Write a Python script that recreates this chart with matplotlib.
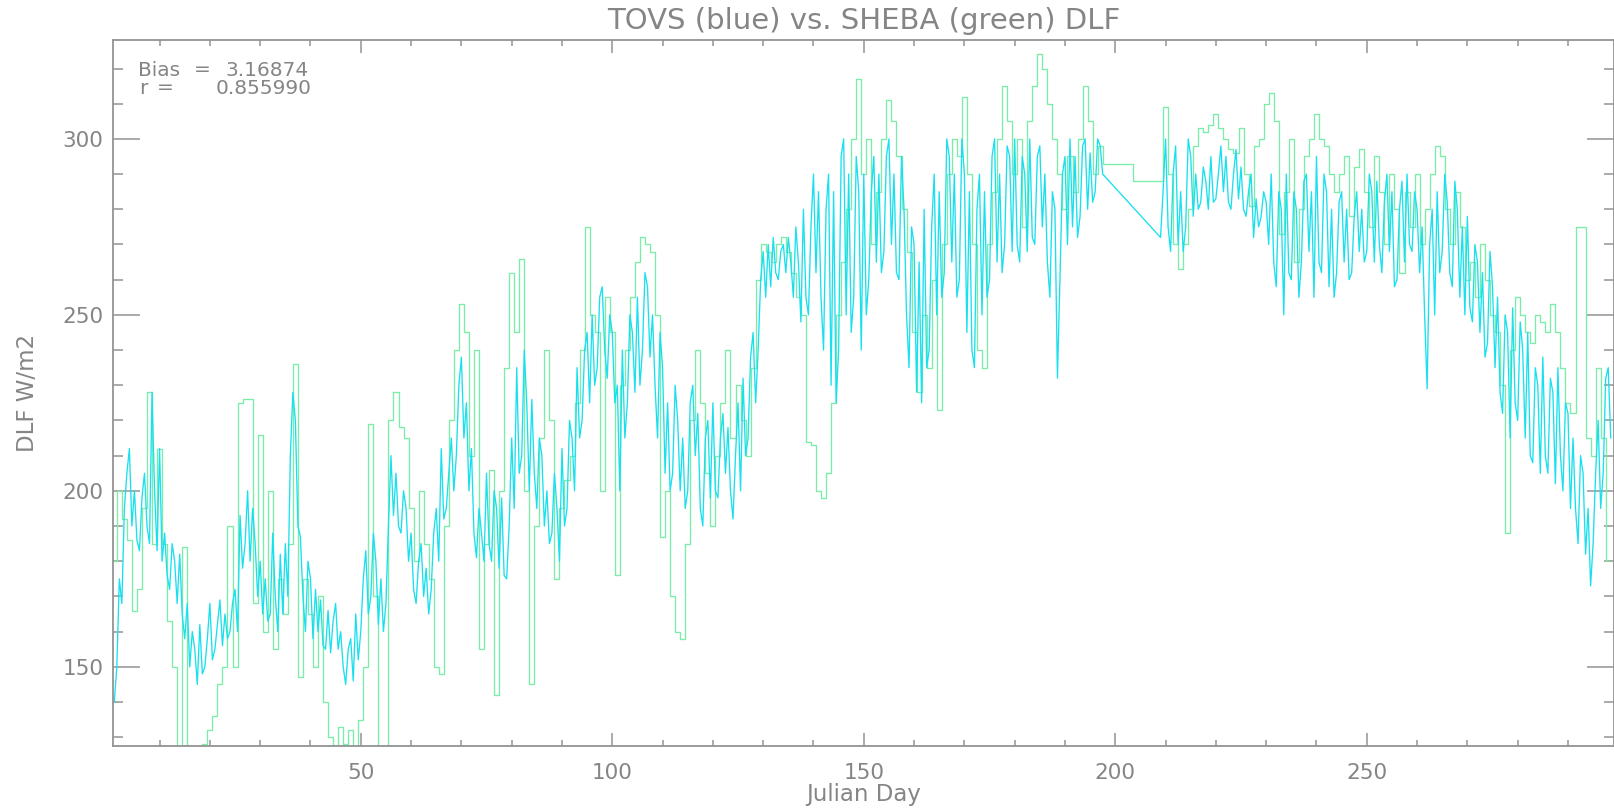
import numpy as np
import matplotlib
matplotlib.use("Agg")
import matplotlib.pyplot as plt
from matplotlib.ticker import MultipleLocator

# ---------------- data ----------------
title = "TOVS (blue) vs. SHEBA (green) DLF"
x_label = "Julian Day"
y_label = "DLF W/m2"
bias_name, bias_value = "Bias", "3.16874"
r_name, r_value = "r", "0.855990"

# TOVS: two samples per day, days 1-197 and 209-298
tovs_seg1_days = (1, 197)
tovs_seg2_days = (209, 298)
tovs_seg1 = [
    140,150, 175,168, 195,205, 212,190, 200,186, 183,198, 205,190, 185,228, 200,183, 212,180,
    188,176, 172,185, 180,168, 182,165, 158,168, 150,160, 155,145, 162,148, 150,158, 168,152,
    155,162, 169,156, 165,158, 160,168, 172,160, 193,178, 185,200, 180,195, 185,170, 180,165,
    175,163, 165,188, 170,160, 182,165, 185,170, 210,228, 220,190, 187,170, 160,180, 175,158,
    172,160, 169,156, 155,166, 154,163, 168,155, 160,150, 145,155, 158,146, 165,152, 160,175,
    183,165, 170,188, 180,162, 175,160, 168,190, 210,193, 205,190, 188,200, 195,180, 188,172,
    168,180, 185,170, 178,165, 172,188, 195,180, 212,192, 195,205, 215,200, 210,230, 238,215,
    225,200, 212,188, 181,195, 188,180, 205,185, 180,200, 195,178, 198,176, 175,190, 215,195,
    235,205, 210,240, 225,200, 226,205, 195,215, 210,190, 200,185, 188,205, 195,180, 212,190,
    195,220, 215,200, 235,215, 220,240, 245,225, 250,230, 235,255, 258,240, 232,250, 245,225,
    230,200, 240,215, 225,250, 245,228, 255,230, 240,262, 258,238, 250,230, 215,245, 235,205,
    225,200, 205,230, 220,200, 215,195, 200,225, 230,210, 222,195, 190,215, 220,198, 225,200,
    198,215, 222,205, 218,200, 192,210, 225,200, 232,210, 215,238, 245,225, 240,260, 268,255,
    270,258, 272,262, 260,268, 270,262, 272,265, 255,275, 265,248, 280,255, 250,275, 290,262,
    285,255, 240,280, 290,230, 285,225, 240,295, 300,250, 290,245, 255,295, 285,240, 290,250,
    260,285, 295,265, 290,262, 268,295, 300,270, 290,262, 260,295, 280,250, 235,275, 270,228,
    265,225, 280,235, 240,275, 290,250, 285,255, 262,300, 295,265, 290,255, 260,300, 290,245,
    285,240, 235,280, 290,250, 285,255, 260,295, 300,265, 290,262, 270,298, 295,268, 300,270,
    265,295, 290,268, 300,272, 270,295, 298,275, 290,265, 255,285, 280,232, 260,290, 295,270,
    300,275, 295,272, 278,298, 300,280, 296,282, 285,300, 298,290,
]
tovs_seg2 = [
    272,285, 300,275, 268,290, 298,270, 285,268, 275,300, 295,278, 290,280, 282,292, 288,280,
    295,282, 283,290, 298,285, 295,282, 280,290, 297,283, 292,280, 278,285, 290,272, 283,275,
    278,285, 282,270, 290,265, 258,285, 280,250, 290,262, 260,285, 280,255, 265,288, 290,268,
    285,255, 295,265, 262,290, 285,258, 280,255, 262,282, 285,265, 280,260, 262,278, 285,268,
    280,265, 268,290, 285,265, 288,270, 262,282, 290,268, 285,258, 260,280, 288,265, 290,270,
    268,285, 280,262, 275,250, 229,270, 280,250, 285,262, 268,290, 282,262, 258,288, 280,255,
    275,250, 278,252, 248,270, 265,245, 262,238, 242,268, 258,235, 255,228, 222,250, 245,215,
    252,225, 220,248, 240,215, 245,210, 208,235, 230,205, 238,210, 205,232, 228,202, 235,210,
    200,225, 222,195, 215,195, 185,210, 205,182, 195,173, 185,205, 220,195, 205,232, 235,215,
]

# SHEBA: one value per day, days 1-198 and 209-298
sheba_seg1_days = (1, 198)
sheba_seg2_days = (209, 298)
sheba_seg1 = [
    180, 200, 192, 186, 166, 172, 195, 228, 185, 212,
    185, 163, 150, 125, 184, 126, 124, 125, 128, 132,
    136, 145, 150, 190, 150, 225, 226, 226, 168, 216,
    160, 200, 155, 175, 165, 185, 236, 147, 175, 165,
    150, 170, 140, 130, 125, 133, 128, 132, 125, 135,
    150, 219, 170, 125, 126, 220, 228, 218, 215, 195,
    180, 200, 185, 175, 150, 148, 190, 220, 240, 253,
    245, 210, 240, 155, 185, 206, 142, 200, 235, 262,
    245, 266, 200, 145, 190, 215, 240, 220, 175, 195,
    203, 210, 225, 240, 275, 250, 245, 200, 255, 245,
    176, 230, 240, 255, 265, 272, 270, 268, 250, 187,
    200, 170, 160, 158, 185, 220, 240, 225, 205, 190,
    210, 225, 240, 215, 230, 220, 210, 235, 260, 270,
    268, 265, 270, 272, 268, 262, 255, 250, 214, 213,
    200, 198, 205, 225, 250, 265, 280, 300, 317, 290,
    300, 270, 285, 300, 311, 305, 295, 280, 268, 245,
    228, 250, 235, 260, 223, 270, 290, 300, 295, 312,
    290, 270, 240, 235, 270, 285, 300, 315, 305, 290,
    300, 275, 305, 315, 324, 320, 310, 300, 290, 280,
    295, 285, 300, 315, 305, 290, 298, 293,
]
sheba_seg2 = [
    288, 309, 290, 270, 263, 270, 280, 298, 303, 302,
    304, 307, 303, 300, 297, 296, 303, 290, 281, 298,
    300, 310, 313, 305, 273, 285, 300, 265, 280, 295,
    300, 307, 300, 298, 290, 285, 290, 295, 278, 292,
    297, 285, 275, 295, 285, 270, 290, 280, 262, 285,
    275, 290, 270, 280, 290, 298, 295, 280, 270, 285,
    275, 260, 265, 255, 270, 260, 250, 245, 230, 188,
    240, 255, 250, 245, 242, 250, 248, 245, 253, 245,
    235, 225, 222, 275, 275, 215, 210, 235, 215, 180,
]

x_major_ticks = [50, 100, 150, 200, 250]
y_major_ticks = [150, 200, 250, 300]


def day_axis(span, n_values, per_day):
    days = np.arange(span[0], span[1] + 1, dtype=float)
    if per_day == 2:
        days = np.column_stack([days, days + 0.5]).ravel()
    return days[:n_values]


tovs_x = np.concatenate([day_axis(tovs_seg1_days, len(tovs_seg1), 2),
                         day_axis(tovs_seg2_days, len(tovs_seg2), 2)])
tovs_y = np.array(tovs_seg1 + tovs_seg2, dtype=float)[:len(tovs_x)]
sheba_x = np.concatenate([day_axis(sheba_seg1_days, len(sheba_seg1), 1),
                          day_axis(sheba_seg2_days, len(sheba_seg2), 1)])
sheba_y = np.array(sheba_seg1 + sheba_seg2, dtype=float)[:len(sheba_x)]

# ---------------- styling ----------------
W, H = 1614, 809
gray = "#858585"
axis_gray = "#939393"
cyan = "#18e0ee"
green = "#7aeea8"

fig = plt.figure(figsize=(W / 100, H / 100), dpi=100)
fig.patch.set_facecolor("white")
ax = fig.add_axes([113.3 / W, (H - 746) / H, (W - 113.3) / W, (746 - 40) / H])

ax.plot(sheba_x, sheba_y, color=green, lw=0.95, drawstyle="steps-mid")
ax.plot(tovs_x, tovs_y, color=cyan, lw=0.95)

ax.set_xlim(0.8, 299.15)
ax.set_ylim(127.5, 328.1)

ax.set_xticks(x_major_ticks)
ax.set_yticks(y_major_ticks)
ax.xaxis.set_minor_locator(MultipleLocator(10))
ax.yaxis.set_minor_locator(MultipleLocator(10))

for s in ax.spines.values():
    s.set_color(axis_gray)
    s.set_linewidth(1.3)

ax.tick_params(axis="both", which="both", direction="in", top=True, right=True,
               color=axis_gray, labelcolor=gray, labelsize=15.5, width=1.1)
ax.tick_params(axis="x", which="major", length=9.5, pad=12)
ax.tick_params(axis="x", which="minor", length=4.2)
ax.tick_params(axis="y", which="major", length=19.5, pad=7)
ax.tick_params(axis="y", which="minor", length=7.2)

fig.text(863.5 / W, 1 - 21 / H, title, ha="center", va="center",
         fontsize=21, color=gray)
fig.text(864 / W, 1 - 795 / H, x_label, ha="center", va="center",
         fontsize=16.5, color=gray)
fig.text(27.5 / W, 1 - 393 / H, y_label, ha="center", va="center",
         rotation=90, fontsize=16.5, color=gray)

fs_small = 14.5
fig.text(138 / W, 1 - 70 / H, bias_name, ha="left", va="center", fontsize=fs_small, color=gray)
fig.text(194 / W, 1 - 70 / H, "=", ha="left", va="center", fontsize=fs_small, color=gray)
fig.text(225 / W, 1 - 70 / H, bias_value, ha="left", va="center", fontsize=fs_small, color=gray)
fig.text(139 / W, 1 - 88 / H, r_name, ha="left", va="center", fontsize=fs_small, color=gray)
fig.text(157 / W, 1 - 88 / H, "=", ha="left", va="center", fontsize=fs_small, color=gray)
fig.text(216 / W, 1 - 88 / H, r_value, ha="left", va="center", fontsize=fs_small, color=gray)

fig.savefig("out.png", dpi=100, facecolor="white")
